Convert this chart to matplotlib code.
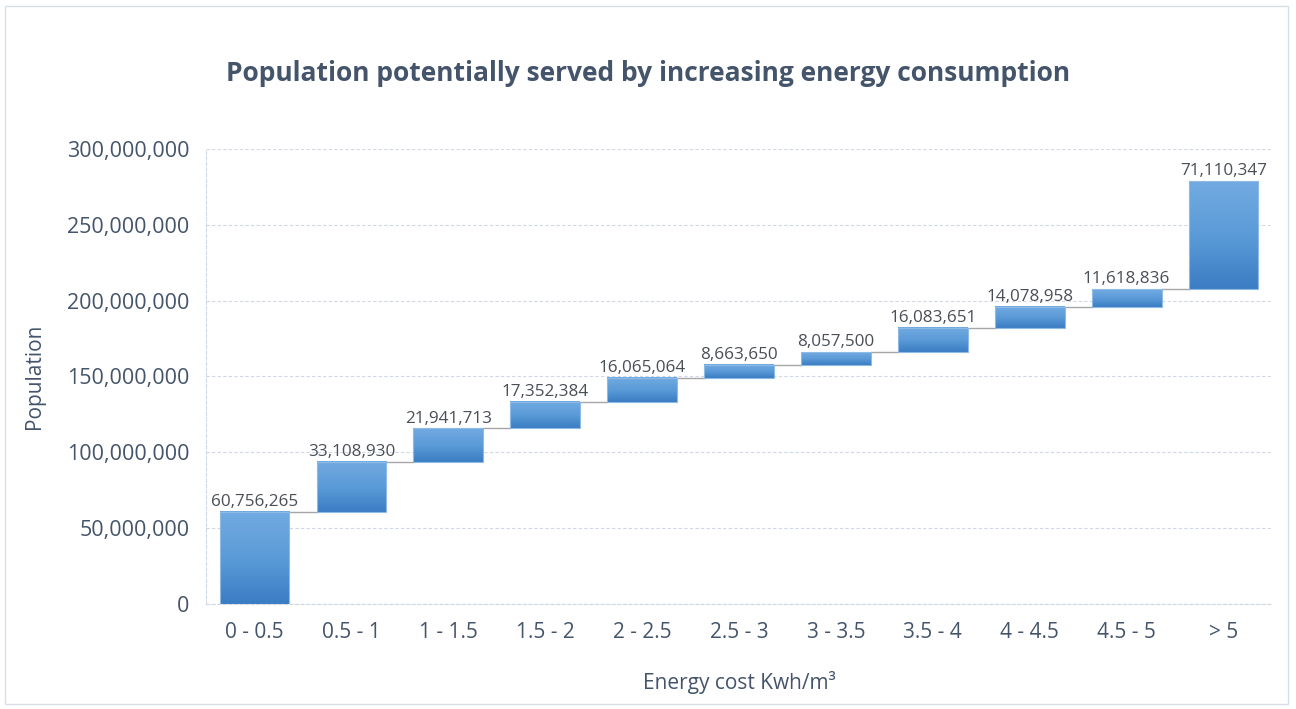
import matplotlib
matplotlib.use("Agg")
import matplotlib.pyplot as plt
from matplotlib.colors import LinearSegmentedColormap
from matplotlib.patches import Rectangle
from matplotlib.ticker import FuncFormatter
import numpy as np

categories = ["0 - 0.5", "0.5 - 1", "1 - 1.5", "1.5 - 2", "2 - 2.5", "2.5 - 3",
              "3 - 3.5", "3.5 - 4", "4 - 4.5", "4.5 - 5", "> 5"]
increments = [60756265, 33108930, 21941713, 17352384, 16065064, 8663650,
              8057500, 16083651, 14078958, 11618836, 71110347]

plt.rcParams['font.family'] = ['Open Sans', 'DejaVu Sans']

tops = np.cumsum(increments)
bottoms = tops - np.array(increments)

fig = plt.figure(figsize=(12.96, 7.09), dpi=100)
ax = fig.add_axes([0.159, 0.148, 0.8225, 0.642])

grad = LinearSegmentedColormap.from_list("bar", ["#3b7dc3", "#5b9bd8", "#72aae1"])
img = np.linspace(0, 1, 100).reshape(-1, 1)
width = 0.72

for i, (b, t, v) in enumerate(zip(bottoms, tops, increments)):
    x0 = i - width / 2
    ax.imshow(img, extent=[x0, x0 + width, b, t], origin='lower', aspect='auto',
              cmap=grad, zorder=3)
    ax.add_patch(Rectangle((x0, b), width, t - b, fill=False, edgecolor="#8dbbe6",
                           linewidth=0.8, zorder=4))
    ax.text(i, t + 1.2e6, f"{v:,}", ha='center', va='bottom', fontsize=12.3,
            color="#4a4f57", zorder=5)
    if i < len(categories) - 1:
        ax.plot([x0 + width, i + 1 - width / 2], [t, t], color="#a6a6a6",
                linewidth=1, zorder=2)

ax.set_xlim(-0.5, len(categories) - 0.5)
ax.set_ylim(0, 300e6)
ax.set_yticks(np.arange(0, 300e6 + 1, 50e6))
ax.yaxis.set_major_formatter(FuncFormatter(lambda v, p: f"{int(v):,}"))
ax.set_xticks(range(len(categories)))
ax.set_xticklabels(categories)
ax.tick_params(axis='both', length=0, labelsize=15.5, colors="#44546a", pad=12)
ax.tick_params(axis='x', labelsize=15, pad=13)

ax.grid(axis='y', color="#d0d8e4", linestyle=(0, (3, 2)), linewidth=0.8, zorder=0)
for s in ['top', 'right']:
    ax.spines[s].set_visible(False)
for s in ['left', 'bottom']:
    ax.spines[s].set_color("#d0d8e4")
    ax.spines[s].set_linestyle((0, (3, 2)))
    ax.spines[s].set_linewidth(0.8)

ax.set_ylabel("Population", fontsize=15, color="#44546a", labelpad=16)
ax.set_xlabel("Energy cost Kwh/m³", fontsize=15, color="#44546a", labelpad=20)

fig.text(0.5, 0.896, "Population potentially served by increasing energy consumption",
         ha='center', va='center', fontsize=19, fontweight='bold', color="#44546a")

fig.patches.append(Rectangle((0.004, 0.007), 0.99, 0.985, transform=fig.transFigure,
                             fill=False, edgecolor="#d9dfe8", linewidth=1))

fig.savefig("out.png", dpi=100)
